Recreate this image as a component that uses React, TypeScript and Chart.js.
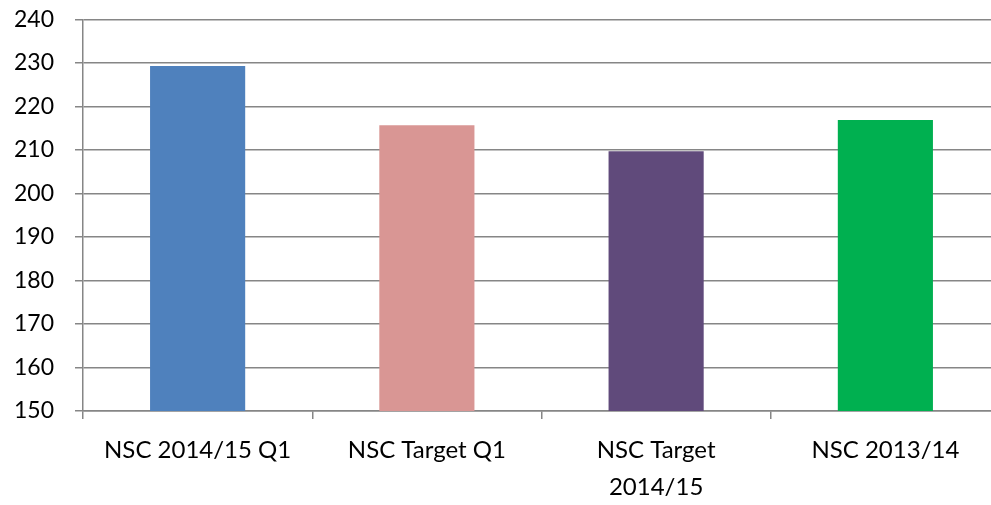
import React, { useEffect, useRef } from "react";
import { Chart, registerables } from "chart.js";

Chart.register(...registerables);

const categories: (string | string[])[] = [
  "NSC 2014/15 Q1",
  "NSC Target Q1",
  ["NSC Target", "2014/15"],
  "NSC 2013/14",
];
const values: number[] = [229.3, 215.7, 209.7, 216.9];
const barColors: string[] = ["#4F81BD", "#D99694", "#604A7B", "#00B050"];
const yMin = 150;
const yMax = 240;
const yStep = 10;

const FONT = "Lato, 'Open Sans', sans-serif";
const GRID = "#868686";

export default function App() {
  const ref = useRef<HTMLCanvasElement | null>(null);

  useEffect(() => {
    if (!ref.current) return;
    const chart = new Chart(ref.current, {
      type: "bar",
      data: {
        labels: categories,
        datasets: [
          {
            data: values,
            backgroundColor: barColors,
            borderWidth: 0,
            barPercentage: 1,
            categoryPercentage: 0.415,
          },
        ],
      },
      options: {
        responsive: false,
        animation: false,
        devicePixelRatio: 1,
        layout: { padding: { top: 19.5, right: 0, bottom: 0, left: 0 } },
        plugins: {
          legend: { display: false },
          tooltip: { enabled: false },
        },
        scales: {
          x: {
            grid: {
              display: true,
              drawOnChartArea: false,
              drawTicks: true,
              tickLength: 8,
              color: GRID,
              lineWidth: 1.5,
            },
            border: { display: true, color: GRID, width: 1.5 },
            ticks: {
              color: "#000",
              padding: 13,
              maxRotation: 0,
              autoSkip: false,
              font: { family: FONT, size: 24, lineHeight: 1.54 },
            },
            afterFit: (scale: any) => {
              scale.height = 94;
              scale.paddingLeft = 0;
              scale.paddingRight = 0;
            },
          },
          y: {
            min: yMin,
            max: yMax,
            grid: {
              display: true,
              drawTicks: true,
              tickLength: 8,
              color: GRID,
              lineWidth: 1.5,
            },
            border: { display: true, color: GRID, width: 1.5 },
            ticks: {
              stepSize: yStep,
              color: "#000",
              padding: 21,
              font: { family: FONT, size: 23 },
            },
            afterFit: (scale: any) => {
              scale.width = 83;
              scale.paddingTop = 0;
              scale.paddingBottom = 0;
            },
          },
        },
      },
    });
    return () => chart.destroy();
  }, []);

  return (
    <div
      style={{
        position: "fixed",
        left: 0,
        top: 0,
        width: 991,
        height: 505,
        overflow: "hidden",
        background: "#fff",
      }}
    >
      <canvas ref={ref} width={1000} height={505} style={{ display: "block" }} />
    </div>
  );
}
